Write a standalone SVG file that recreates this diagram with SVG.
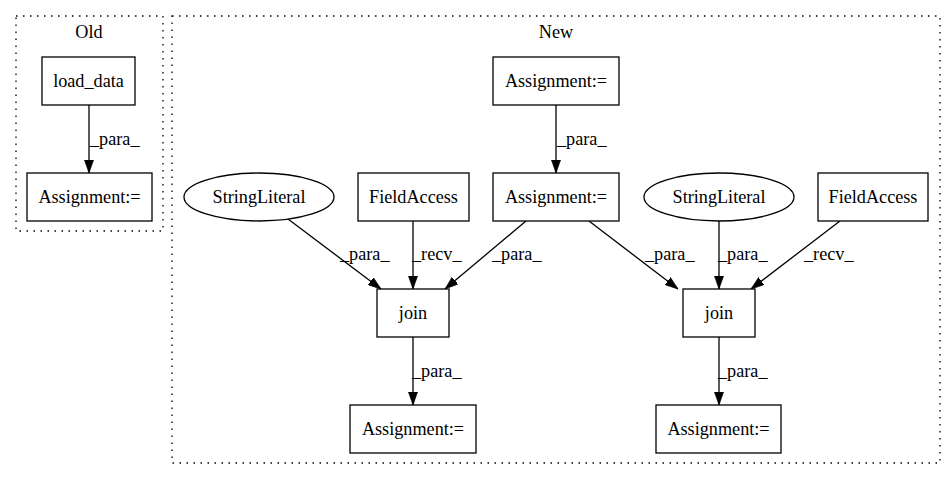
<svg xmlns="http://www.w3.org/2000/svg" width="952" height="480" viewBox="0 0 952 480">
<style>
text{font-family:"Liberation Serif","Times New Roman",serif;font-size:18.2px;fill:#000}
.n{text-anchor:middle}
.box{fill:#fff;stroke:#000;stroke-width:1.3}
.cl{fill:none;stroke:#000;stroke-width:1.3;stroke-dasharray:1.5,5.5}
.e{fill:none;stroke:#000;stroke-width:1.3;marker-end:url(#ah)}
</style>
<defs>
<marker id="ah" viewBox="0 0 10 7" refX="10" refY="3.5" markerWidth="13" markerHeight="9.3" markerUnits="userSpaceOnUse" orient="auto">
<path d="M0,0 L10,3.5 L0,7 z" fill="#000" stroke="#000" stroke-width="0.5"/>
</marker>
</defs>
<rect width="952" height="480" fill="#fff"/>
<g id="cluster_old">
<rect class="cl" x="16" y="16" width="147" height="215"/>
<text class="n" x="89" y="38">Old</text>
</g>
<g id="cluster_new">
<rect class="cl" x="172" y="16" width="768" height="447"/>
<text class="n" x="556" y="38">New</text>
</g>
<g id="connectors">
<path class="e" d="M89,105 L89,173"/>
<text x="90" y="145">_para_</text>
<path class="e" d="M556,105 L556,173"/>
<text x="557" y="145">_para_</text>
<path class="e" d="M288,219 L381,289"/>
<text x="340" y="260">_para_</text>
<path class="e" d="M413,221 L413,289"/>
<text x="412" y="260">_recv_</text>
<path class="e" d="M526,221 L445,289"/>
<text x="492" y="260">_para_</text>
<path class="e" d="M589,221 L678,289"/>
<text x="645" y="260">_para_</text>
<path class="e" d="M719,221 L719,289"/>
<text x="718" y="260">_para_</text>
<path class="e" d="M840,221 L751,289"/>
<text x="804" y="260">_recv_</text>
<path class="e" d="M413,337 L413,405"/>
<text x="412" y="377">_para_</text>
<path class="e" d="M719,337 L719,405"/>
<text x="718" y="377">_para_</text>
</g>
<g id="load_data">
<rect class="box" x="42" y="57" width="93" height="48"/>
<text class="n" x="88.5" y="87">load_data</text>
</g>
<g id="old_assign">
<rect class="box" x="27" y="173" width="125" height="48"/>
<text class="n" x="89.5" y="203">Assignment:=</text>
</g>
<g id="assign_top">
<rect class="box" x="493" y="57" width="126" height="48"/>
<text class="n" x="556" y="87">Assignment:=</text>
</g>
<g id="string1">
<ellipse class="box" cx="259" cy="197" rx="75" ry="24"/>
<text class="n" x="259" y="203">StringLiteral</text>
</g>
<g id="field1">
<rect class="box" x="358" y="173" width="111" height="48"/>
<text class="n" x="413.5" y="203">FieldAccess</text>
</g>
<g id="assign_mid">
<rect class="box" x="493" y="173" width="126" height="48"/>
<text class="n" x="556" y="203">Assignment:=</text>
</g>
<g id="string2">
<ellipse class="box" cx="719" cy="197" rx="75" ry="24"/>
<text class="n" x="719" y="203">StringLiteral</text>
</g>
<g id="field2">
<rect class="box" x="818" y="173" width="110" height="48"/>
<text class="n" x="873" y="203">FieldAccess</text>
</g>
<g id="join1">
<rect class="box" x="377" y="289" width="72" height="48"/>
<text class="n" x="413" y="319">join</text>
</g>
<g id="join2">
<rect class="box" x="683" y="289" width="72" height="48"/>
<text class="n" x="719" y="319">join</text>
</g>
<g id="assign_b1">
<rect class="box" x="350" y="405" width="126" height="48"/>
<text class="n" x="413" y="435">Assignment:=</text>
</g>
<g id="assign_b2">
<rect class="box" x="656" y="405" width="125" height="48"/>
<text class="n" x="718.5" y="435">Assignment:=</text>
</g>
</svg>
